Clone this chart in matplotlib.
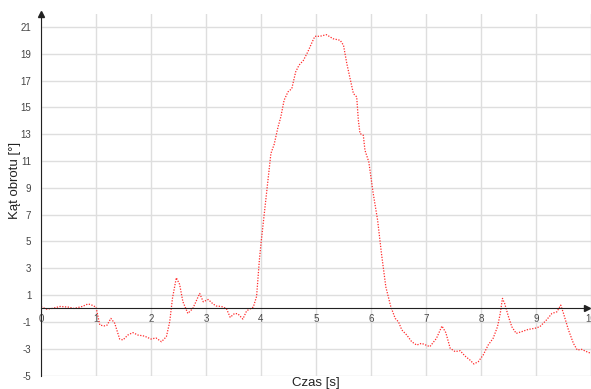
import numpy as np
import matplotlib
matplotlib.use("Agg")
import matplotlib.pyplot as plt

plt.rcParams['font.family'] = ['Liberation Sans', 'DejaVu Sans']
plt.rcParams['axes.unicode_minus'] = False

# --- dane: czas [s] i kąt obrotu [°] ---
czas = [0.0, 0.1, 0.2, 0.35, 0.5, 0.6, 0.75, 0.85, 0.9, 1.0,
        1.07, 1.15, 1.2, 1.27, 1.34, 1.43, 1.49, 1.58, 1.67, 1.76, 1.88,
        2.0, 2.09, 2.19, 2.28, 2.34, 2.39, 2.46, 2.52, 2.58, 2.67, 2.76,
        2.885, 2.95, 3.04, 3.13, 3.19, 3.28, 3.37, 3.44, 3.52, 3.58, 3.67,
        3.74, 3.86, 3.92, 3.97, 4.0, 4.06, 4.12, 4.18, 4.24, 4.31, 4.36,
        4.42, 4.49, 4.56, 4.63, 4.69, 4.77, 4.85, 4.93, 4.98, 5.07, 5.19,
        5.31, 5.44, 5.5, 5.56, 5.64, 5.68, 5.74, 5.77, 5.8, 5.86, 5.89,
        5.96, 6.04, 6.12, 6.19, 6.27, 6.36, 6.44, 6.5, 6.56, 6.65, 6.74,
        6.83, 6.92, 7.07, 7.19, 7.29, 7.36, 7.44, 7.53, 7.62, 7.71, 7.8,
        7.87, 7.95, 8.04, 8.13, 8.22, 8.3, 8.35, 8.39, 8.43, 8.5, 8.56,
        8.64, 8.74, 8.86, 8.98, 9.07, 9.19, 9.29, 9.38, 9.45, 9.5, 9.59,
        9.68, 9.75, 9.83, 9.92, 10.0]
kat = [0.13, -0.05, 0.0, 0.15, 0.1, 0.0, 0.15, 0.33, 0.3, 0.1,
       -1.24, -1.3, -1.25, -0.74, -1.1, -2.28, -2.35, -1.98, -1.8, -1.98, -2.06,
       -2.28, -2.2, -2.48, -2.1, -1.0, 0.75, 2.29, 1.8, 0.5, -0.37, 0.0,
       1.12, 0.5, 0.67, 0.33, 0.18, 0.15, 0.0, -0.66, -0.37, -0.4, -0.79,
       -0.17, 0.1, 0.9, 3.6, 4.85, 7.08, 9.32, 11.56, 12.25, 13.54, 14.28,
       15.53, 16.15, 16.4, 17.64, 18.14, 18.5, 19.13, 19.87, 20.3, 20.3, 20.42,
       20.12, 20.0, 19.63, 18.27, 16.77, 16.03, 15.78, 14.04, 13.05, 12.92, 11.8,
       10.93, 8.58, 6.59, 4.1, 1.6, 0.13, -0.74, -1.0, -1.6, -1.98, -2.48,
       -2.73, -2.6, -2.85, -2.23, -1.31, -1.8, -2.97, -3.22, -3.15, -3.55, -3.85,
       -4.14, -3.97, -3.47, -2.73, -2.23, -1.36, -0.37, 0.75, 0.37, -0.62, -1.36,
       -1.86, -1.73, -1.56, -1.48, -1.36, -0.86, -0.37, -0.25, 0.25, -0.37, -1.6,
       -2.6, -3.1, -3.05, -3.22, -3.35]

y_ticks = list(range(-5, 22, 2))
x_ticks = list(range(0, 11))

fig = plt.figure(figsize=(5.91, 3.89), dpi=100)
ax = fig.add_axes([41 / 591, 13.5 / 389, 1 - 41 / 591, 1 - 27 / 389])

ax.plot(czas, kat, color='#ff2a2a', linestyle=(0, (1, 1.2)), linewidth=0.9)

ax.set_xlim(0, 10)
ax.set_ylim(-5, 22)
ax.set_xticks(x_ticks)
ax.set_yticks(y_ticks)

ax.grid(True, color='#dedede', linewidth=1.0)
ax.set_axisbelow(True)

for s in ['top', 'right']:
    ax.spines[s].set_visible(False)
ax.spines['bottom'].set_position(('data', 0))
ax.spines['bottom'].set_bounds(0, 9.95)
ax.spines['left'].set_color('#222222')
ax.spines['bottom'].set_color('#222222')

# strzałki na osiach
ax.plot(0.993, 0, '>', color='#222222', markersize=4,
        transform=ax.get_yaxis_transform(), clip_on=False)
ax.plot(0, 1, '^', color='#222222', markersize=4,
        transform=ax.get_xaxis_transform(), clip_on=False)

ax.tick_params(axis='both', length=0, labelsize=7, labelcolor='#444444')
ax.tick_params(axis='y', pad=7)
ax.tick_params(axis='x', pad=4)

ax.set_xlabel('Czas [s]', fontsize=9.5, color='#222222')
ax.xaxis.set_label_coords(0.5, -0.005)
ax.set_ylabel('Kąt obrotu [°]', fontsize=9.5, color='#222222', va='center')
ax.yaxis.set_label_coords(-0.047, 0.54)

fig.savefig('out.png', dpi=100)
